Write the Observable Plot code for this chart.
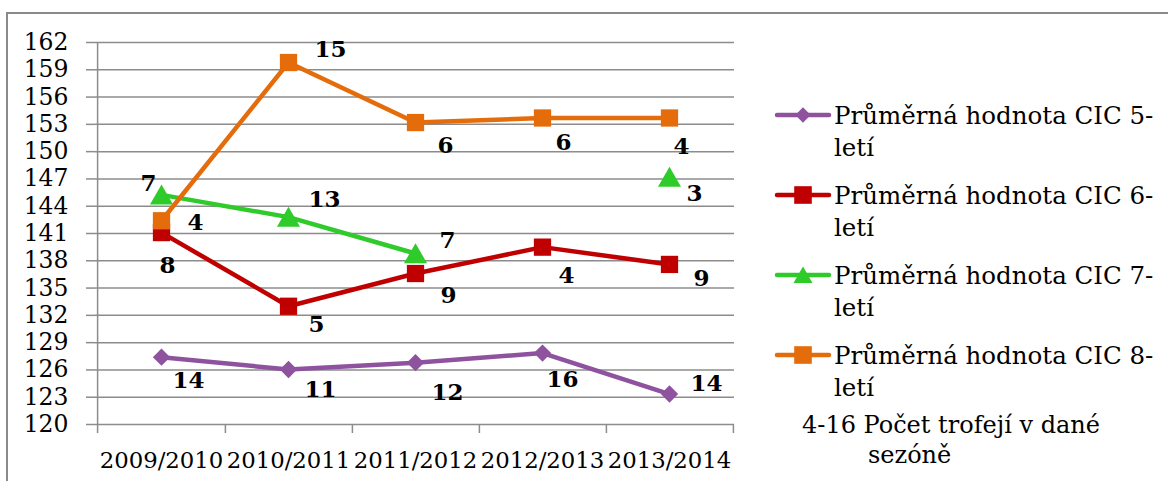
<!DOCTYPE html>
<html><head><meta charset="utf-8">
<script src="https://cdn.jsdelivr.net/npm/d3@7"></script>
<script src="https://cdn.jsdelivr.net/npm/@observablehq/plot@0.6"></script>
<style>
html,body{margin:0;padding:0;background:#fff;overflow:hidden}
#wrap{position:relative;width:1168px;height:481px;font-family:"DejaVu Serif",serif;background:#fff}
#frame{position:absolute;left:6px;top:12px;width:1200px;height:520px;border-left:2px solid #8a8a8a;border-top:2px solid #8a8a8a;box-sizing:border-box}
#chart,#legend{position:absolute;left:0;top:0}
</style>
</head><body>
<div id="wrap"><div id="frame"></div><div id="chart"></div><svg id="legend" width="1168" height="481"></svg></div>
<script>
// ---- data ----
const seasons = ["2009/2010","2010/2011","2011/2012","2012/2013","2013/2014"];
const seriesNames = ["Průměrná hodnota CIC 5-letí","Průměrná hodnota CIC 6-letí","Průměrná hodnota CIC 7-letí","Průměrná hodnota CIC 8-letí"];
const cic5 = [127.4, 126.05, 126.8, 127.85, 123.35];
const cic6 = [141.1, 133.0, 136.6, 139.5, 137.6];
const cic7 = [145.25, 142.8, 138.8, null, 147.2];
const cic8 = [142.4, 159.8, 153.2, 153.7, 153.7];
const count5 = [14, 11, 12, 16, 14];
const count6 = [8, 5, 9, 4, 9];
const count7 = [7, 13, 7, null, 3];
const count8 = [4, 15, 6, 6, 4];
const yTicks = [120,123,126,129,132,135,138,141,144,147,150,153,156,159,162];
const noteLine1 = "4-16 Počet trofejí v dané";
const noteLine2 = "sezóně";

// ---- layout / style ----
const W = 1168, H = 481, mL = 95, mR = 1168 - 734, mT = 42, mB = 481 - 424;
const step = (W - mL - mR) / seasons.length;
const gridColor = "#8c8c8c";
const labelOffsets = [
  [[27,23],[32,20],[32,30],[20,27],[37,-10]],
  [[6,33],[28,18],[33,22],[24,28],[32,14]],
  [[-13,-11],[36,-18],[32,-13],null,[25,17]],
  [[34,2],[42,-13],[30,23],[21,25],[12,29]]
];
const series = [
  {values: cic5, counts: count5, color: "#8e529f", symbol: "diamond2", r: 7.8, sdy: 0},
  {values: cic6, counts: count6, color: "#c00000", symbol: "square2", r: 11, sdy: 0},
  {values: cic7, counts: count7, color: "#2ecb2a", symbol: "triangle2", r: 11, sdy: 3},
  {values: cic8, counts: count8, color: "#e46c0a", symbol: "square2", r: 11, sdy: 0}
];
series.forEach((s, k) => {
  s.name = seriesNames[k];
  s.rows = seasons.map((season, i) => ({season, value: s.values[i], n: s.counts[i], off: labelOffsets[k][i]}));
});

const marks = [
  Plot.gridY(yTicks, {stroke: gridColor, strokeOpacity: 1, strokeWidth: 1.5}),
  Plot.axisY(yTicks, {tickSize: 9, tickPadding: 18, stroke: gridColor, strokeWidth: 1.5, fill: "#000", fontSize: 23.5, label: null}),
  Plot.axisX({tickSize: 0, tickPadding: 27, fill: "#000", fontSize: 22.8, label: null}),
  Plot.ruleX([seasons[0]], {y1: 162, y2: 120, dx: -step/2, insetBottom: -9, stroke: gridColor, strokeWidth: 1.5}),
  Plot.ruleX(seasons, {y1: 120, y2: 120, dx: step/2, insetBottom: -9, stroke: gridColor, strokeWidth: 1.5})
];
for (const s of series) {
  marks.push(Plot.line(s.rows, {x: "season", y: "value", stroke: s.color, strokeWidth: 4.5, strokeLinejoin: "round", strokeLinecap: "round"}));
  marks.push(Plot.dot(s.rows.filter(d => d.value != null), {x: "season", y: "value", symbol: s.symbol, r: s.r, fill: s.color, dy: s.sdy}));
}
for (const s of series) {
  for (const d of s.rows) {
    if (d.n == null) continue;
    marks.push(Plot.text([d], {x: "season", y: "value", text: d => String(d.n), dx: d.off[0], dy: d.off[1], fontSize: 23, fontWeight: "bold", fill: "#000"}));
  }
}

const chart = Plot.plot({
  width: W, height: H,
  marginLeft: mL, marginRight: mR, marginTop: mT, marginBottom: mB,
  style: {fontFamily: "DejaVu Serif, serif", fontSize: "23px", background: "transparent", overflow: "visible"},
  x: {type: "point", domain: seasons, padding: 0.5, label: null},
  y: {domain: [120, 162], label: null},
  marks
});
document.getElementById("chart").append(chart);

// ---- legend ----
const lg = d3.select("#legend").style("font-family", "DejaVu Serif, serif");
series.forEach((s, k) => {
  const cy = 115 + 80 * k;
  lg.append("line").attr("x1", 777).attr("x2", 829).attr("y1", cy).attr("y2", cy)
    .attr("stroke", s.color).attr("stroke-width", 4.5).attr("stroke-linecap", "round");
  const size = k === 0 ? 150 : (k === 2 ? 260 : 310);
  const path = k === 0 ? d3.symbol(d3.symbolDiamond2, size)() : (k === 2 ? d3.symbol(d3.symbolTriangle2, size)() : d3.symbol(d3.symbolSquare, size)());
  lg.append("path").attr("d", path).attr("transform", `translate(803,${cy + (k === 2 ? 2.5 : 0)})`).attr("fill", s.color);
  const parts = s.name.split("-");
  lg.append("text").attr("x", 834).attr("y", cy + 9).attr("font-size", 24.5).attr("fill", "#000").text(parts[0] + "-");
  lg.append("text").attr("x", 834).attr("y", cy + 41).attr("font-size", 24.5).attr("fill", "#000").text(parts[1]);
});
lg.append("text").attr("x", 802).attr("y", 433).attr("font-size", 24).attr("fill", "#000").text(noteLine1);
lg.append("text").attr("x", 868).attr("y", 463).attr("font-size", 24).attr("fill", "#000").text(noteLine2);
</script>
</body></html>
